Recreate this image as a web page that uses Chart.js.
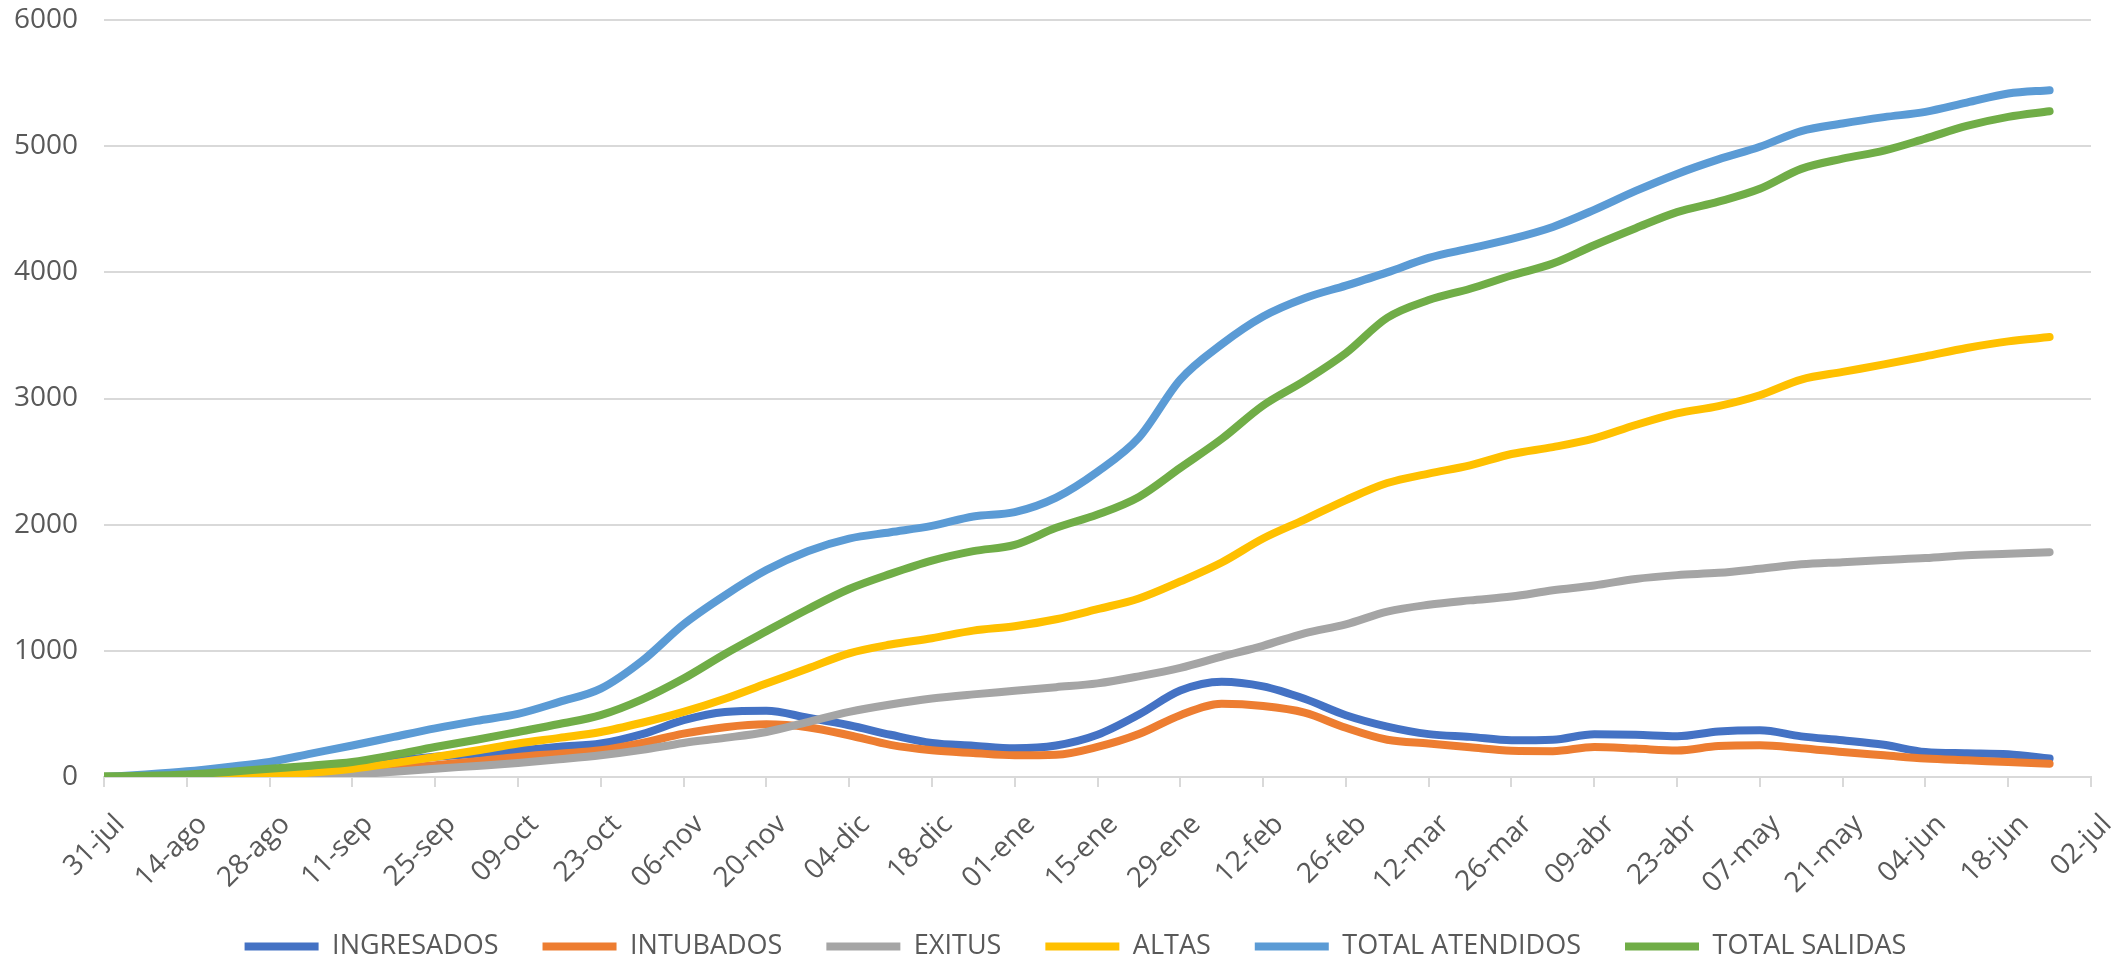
<!DOCTYPE html>
<html>
<head>
<meta charset="utf-8">
<script src="https://cdn.jsdelivr.net/npm/chart.js@4.4.1/dist/chart.umd.min.js"></script>
<style>
html,body{margin:0;padding:0;background:#ffffff;}
#wrap{width:2121px;height:966px;}
</style>
</head>
<body>
<div id="wrap"><canvas id="c" width="2121" height="966"></canvas></div>
<script>
// Day offsets from 31-jul
const days = [0,7,14,21,28,35,42,49,56,63,70,77,84,91,98,105,112,119,126,133,140,147,154,161,168,175,182,189,196,203,210,217,224,231,238,245,252,259,266,273,280,287,294,301,308,315,322,329];

const tickLabels = ['31-jul','14-ago','28-ago','11-sep','25-sep','09-oct','23-oct','06-nov','20-nov','04-dic','18-dic','01-ene','15-ene','29-ene','12-feb','26-feb','12-mar','26-mar','09-abr','23-abr','07-may','21-may','04-jun','18-jun','02-jul'];

const seriesNames = ['INGRESADOS','INTUBADOS','EXITUS','ALTAS','TOTAL ATENDIDOS','TOTAL SALIDAS'];

const ingresados = [0,5,15,30,50,78,105,130,160,185,210,240,265,340,450,515,525,470,410,335,270,248,228,250,335,495,685,755,718,620,490,400,340,318,291,295,339,335,323,360,370,322,291,255,198,188,180,146];
const intubados = [0,0,2,3,5,20,40,65,93,125,159,185,212,270,344,395,418,395,331,255,212,190,172,176,238,340,490,580,562,510,390,295,265,235,208,205,238,225,210,245,251,228,198,172,146,132,119,105];
const exitus = [0,0,0,0,2,8,20,42,66,88,111,140,172,215,270,310,357,435,516,575,622,655,683,712,742,798,865,955,1040,1139,1210,1311,1365,1400,1430,1480,1518,1570,1600,1618,1650,1686,1703,1720,1735,1758,1770,1782];
const altas = [0,0,2,5,13,35,66,110,159,210,265,310,357,430,516,620,741,860,980,1050,1100,1160,1195,1250,1330,1415,1550,1700,1890,2040,2195,2330,2405,2470,2560,2615,2684,2790,2882,2940,3026,3150,3211,3270,3334,3400,3453,3487];
const totalAtendidos = [0,20,45,80,120,185,250,318,385,445,500,595,700,920,1210,1440,1640,1790,1890,1940,1990,2065,2100,2215,2420,2690,3150,3430,3650,3795,3895,4000,4115,4190,4265,4360,4495,4645,4780,4895,4995,5120,5180,5230,5272,5345,5417,5444];
const totalSalidas = [5,10,20,40,66,90,119,175,238,295,357,420,490,615,780,975,1155,1330,1490,1610,1715,1790,1840,1975,2080,2220,2450,2680,2945,3140,3360,3640,3780,3870,3975,4070,4215,4350,4477,4560,4662,4820,4901,4965,5060,5160,5232,5277];

const seriesValues = [ingresados, intubados, exitus, altas, totalAtendidos, totalSalidas];
const seriesColors = ['#4472C4','#ED7D31','#A5A5A5','#FFC000','#5B9BD5','#70AD47'];

const FONT = "'Open Sans', 'Liberation Sans', sans-serif";
const TEXT = '#595959';
const GRID = '#d9d9d9';

const datasets = seriesNames.map((name, i) => ({
  label: name,
  data: days.map((d, k) => ({x: d, y: seriesValues[i][k]})),
  borderColor: seriesColors[i],
  backgroundColor: seriesColors[i],
  borderWidth: 8,
  borderCapStyle: 'round',
  borderJoinStyle: 'round',
  pointRadius: 0,
  pointHoverRadius: 0,
  cubicInterpolationMode: 'monotone',
  fill: false,
  order: seriesNames.length - i
}));

// Layout tweaks: let rotated x labels extend below the axis box, nudge legend to the reference's centre
const layoutTweak = {
  id: 'layoutTweak',
  afterLayout(chart) {
    chart.scales.x.bottom = chart.height;
    chart.legend.left += 15;
    chart.legend.right += 15;
  }
};

new Chart(document.getElementById('c'), {
  type: 'line',
  data: { datasets },
  plugins: [layoutTweak],
  options: {
    responsive: false,
    devicePixelRatio: 1,
    animation: false,
    layout: { padding: { top: 20, right: 0, bottom: -4, left: 0 } },
    plugins: {
      tooltip: { enabled: false },
      legend: {
        position: 'bottom',
        labels: {
          usePointStyle: true,
          pointStyle: 'line',
          pointStyleWidth: 74,
          padding: 44,
          color: TEXT,
          font: { family: FONT, size: 27 },
          sort: (a, b) => a.datasetIndex - b.datasetIndex
        }
      }
    },
    scales: {
      x: {
        type: 'linear',
        min: 0,
        max: 336,
        afterFit: (s) => { s.height = 112; s.paddingLeft = 0; s.paddingRight = 30; },
        ticks: {
          stepSize: 14,
          autoSkip: false,
          minRotation: 45,
          maxRotation: 45,
          padding: 21,
          labelOffset: 16,
          color: TEXT,
          font: { family: FONT, size: 28 },
          callback: (v) => tickLabels[Math.round(v / 14)]
        },
        grid: { drawOnChartArea: false, drawTicks: true, tickLength: 10, color: GRID, lineWidth: 2 },
        border: { display: true, color: GRID, width: 2 }
      },
      y: {
        min: 0,
        max: 6000,
        afterFit: (s) => { s.width = 104; s.paddingTop = 0; s.paddingBottom = 0; },
        ticks: {
          stepSize: 1000,
          padding: 26,
          color: TEXT,
          font: { family: FONT, size: 28 },
          callback: (v) => String(v)
        },
        grid: { color: GRID, lineWidth: 2, drawTicks: false },
        border: { display: false }
      }
    }
  }
});
</script>
</body>
</html>
